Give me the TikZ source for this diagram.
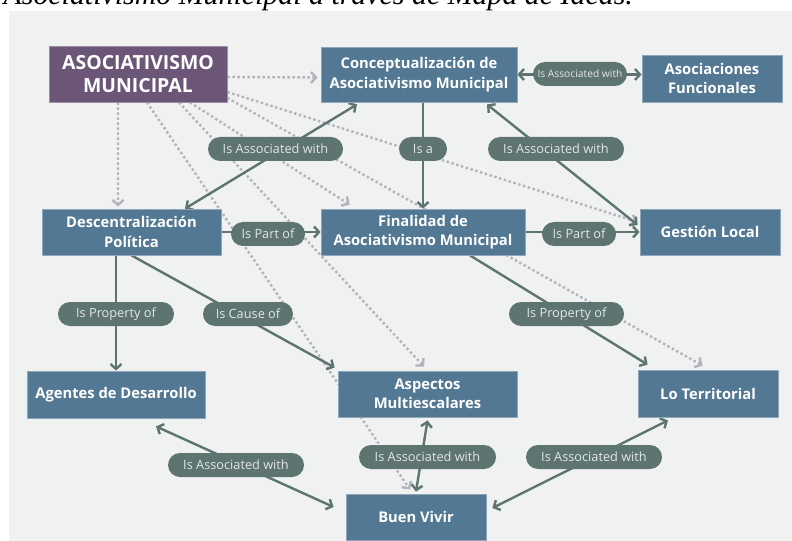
\documentclass[tikz,border=0pt]{standalone}
\usepackage{fontspec}
\setmainfont{Open Sans}
\newfontfamily\capfont{Liberation Serif}
\usetikzlibrary{arrows.meta}
\definecolor{panelbg}{HTML}{F0F1F1}
\definecolor{boxblue}{HTML}{537893}
\definecolor{boxedge}{HTML}{8FA6BA}
\definecolor{purplebox}{HTML}{6B5678}
\definecolor{purpleedge}{HTML}{A08DAA}
\definecolor{pillc}{HTML}{5E7470}
\definecolor{pilltext}{HTML}{E2E7E5}
\definecolor{dotc}{HTML}{B3B3BB}
\pgfdeclarelayer{bg}
\pgfdeclarelayer{lines}
\pgfsetlayers{bg,lines,main}
\tikzset{
  box/.style={fill=boxblue, draw=boxedge, line width=0.8bp, text=white,
    font=\fontsize{14.8}{19.5}\selectfont\bfseries, align=center, inner sep=0pt},
  asocbox/.style={box, fill=purplebox, draw=purpleedge,
    font=\fontsize{19.5}{23.5}\selectfont\bfseries},
  pill/.style={fill=pillc, text=pilltext, rounded corners=12bp,
    minimum height=24bp, minimum width=#1, inner sep=0pt,
    font=\fontsize{12.8}{14}\selectfont},
  conn/.style={draw=pillc, line width=2.4bp},
  dotl/.style={draw=dotc, line width=2.4bp, dash pattern=on 2.4bp off 2.6bp},
}
\begin{document}
\begin{tikzpicture}[x=1bp,y=-1bp, >={Straight Barb[length=5bp,width=11bp]}]
\useasboundingbox (0,0) rectangle (792,541);
\begin{pgfonlayer}{bg}
  \fill[panelbg] (9,11) rectangle (792,541);
  \begin{scope}
    \clip (0,0) rectangle (792,11);
    \node[anchor=base east, inner sep=0pt, font=\capfont\itshape\fontsize{30}{32}\selectfont] (caption) at (633,4.5) {Asociativismo Municipal a través de Mapa de Ideas.};
  \end{scope}
\end{pgfonlayer}

% boxes
\node[asocbox, minimum width=178bp, minimum height=56bp] (asoc) at (138,74) {ASOCIATIVISMO\\MUNICIPAL};
\node[box, minimum width=196bp, minimum height=55bp] (concept) at (419,74.5) {Conceptualización de\\Asociativismo Municipal};
\node[box, minimum width=140bp, minimum height=47bp] (asocfunc) at (712,78.5) {Asociaciones\\Funcionales};
\node[box, minimum width=179bp, minimum height=46bp] (desc) at (131.5,232) {Descentralización\\Política};
\node[box, minimum width=204bp, minimum height=46bp] (final) at (423,232) {Finalidad de\\Asociativismo Municipal};
\node[box, minimum width=140bp, minimum height=46bp] (gestion) at (710,232) {Gestión Local};
\node[box, minimum width=178bp, minimum height=47bp] (agentes) at (116,394.5) {Agentes de Desarrollo};
\node[box, minimum width=179bp, minimum height=46bp] (aspectos) at (427.5,394) {Aspectos\\Multiescalares};
\node[box, minimum width=140bp, minimum height=47bp] (territorial) at (708,393.5) {Lo Territorial};
\node[box, minimum width=140bp, minimum height=46bp] (buen) at (416,517) {Buen Vivir};

% connectors
\begin{pgfonlayer}{lines}
  \draw[dotl,->] ([yshift=-3bp]asoc.east) -- ([yshift=-3bp,xshift=-3bp]concept.west);
  \draw[dotl,->] ([xshift=-20bp]asoc.south) -- ([xshift=-13.5bp,yshift=2bp]desc.north);
  \draw[dotl,->] ([xshift=9bp]asoc.south) -- ([xshift=-6bp,yshift=4bp]buen.north);
  \draw[dotl,->] ([xshift=41bp]asoc.south) -- ([xshift=-3.5bp,yshift=4bp]aspectos.north);
  \draw[dotl,->] ([xshift=52bp]asoc.south) -- ([xshift=29bp,yshift=4bp]final.north west);
  \draw[dotl,->] ([yshift=-18bp]asoc.east) -- ([xshift=-2bp,yshift=10bp]gestion.west);
  \draw[dotl,->] ([yshift=-24bp]asoc.east) -- ([xshift=65bp,yshift=4bp]territorial.north west);

  \draw[conn,<->] (concept.east) -- (concept.east -| asocfunc.west);
  \draw[conn,<->] ([xshift=-62bp,yshift=-2bp]concept.south) -- ([xshift=53.5bp]desc.north);
  \draw[conn,->] (concept.south -| final.north) -- (final.north);
  \draw[conn,<->] ([xshift=68bp,yshift=-2bp]concept.south) -- ([xshift=-2bp,yshift=7bp]gestion.west);
  \draw[conn,->] (desc.east) -- (final.west);
  \draw[conn,->] (final.east) -- (gestion.west);
  \draw[conn,->] (desc.south -| agentes.north) -- (agentes.north);
  \draw[conn,->] (desc.south) -- ([xshift=-3bp,yshift=3bp]aspectos.north west);
  \draw[conn,->] ([xshift=47bp]final.south) -- ([xshift=10bp,yshift=5bp]territorial.north west);
  \draw[conn,<->] ([xshift=40bp,yshift=-8bp]agentes.south) -- ([xshift=-12bp,yshift=10bp]buen.west);
  \draw[conn,<->] ([yshift=-3bp]aspectos.south) -- ([yshift=2bp]buen.north);
  \draw[conn,<->] ([xshift=6bp,yshift=9bp]buen.east) -- ([xshift=-40bp,yshift=-3bp]territorial.south);
\end{pgfonlayer}

% labels
\node[pill=94bp, font=\fontsize{10.3}{12}\selectfont] (l1) at (580,74) {Is Associated with};
\node[pill=135bp] (l2) at (275.5,149) {Is Associated with};
\node[pill=48bp] (l3) at (423,149) {Is a};
\node[pill=136bp] (l4) at (556,149) {Is Associated with};
\node[pill=74bp] (l5) at (268,234) {Is Part of};
\node[pill=74bp] (l6) at (579,234) {Is Part of};
\node[pill=116bp] (l7) at (116,314) {Is Property of};
\node[pill=90bp] (l8) at (248,314) {Is Cause of};
\node[pill=115bp] (l9) at (566.5,314) {Is Property of};
\node[pill=136bp] (l10) at (236,465) {Is Associated with};
\node[pill=137bp] (l11) at (427.5,457) {Is Associated with};
\node[pill=136bp] (l12) at (594,457) {Is Associated with};
\end{tikzpicture}
\end{document}
